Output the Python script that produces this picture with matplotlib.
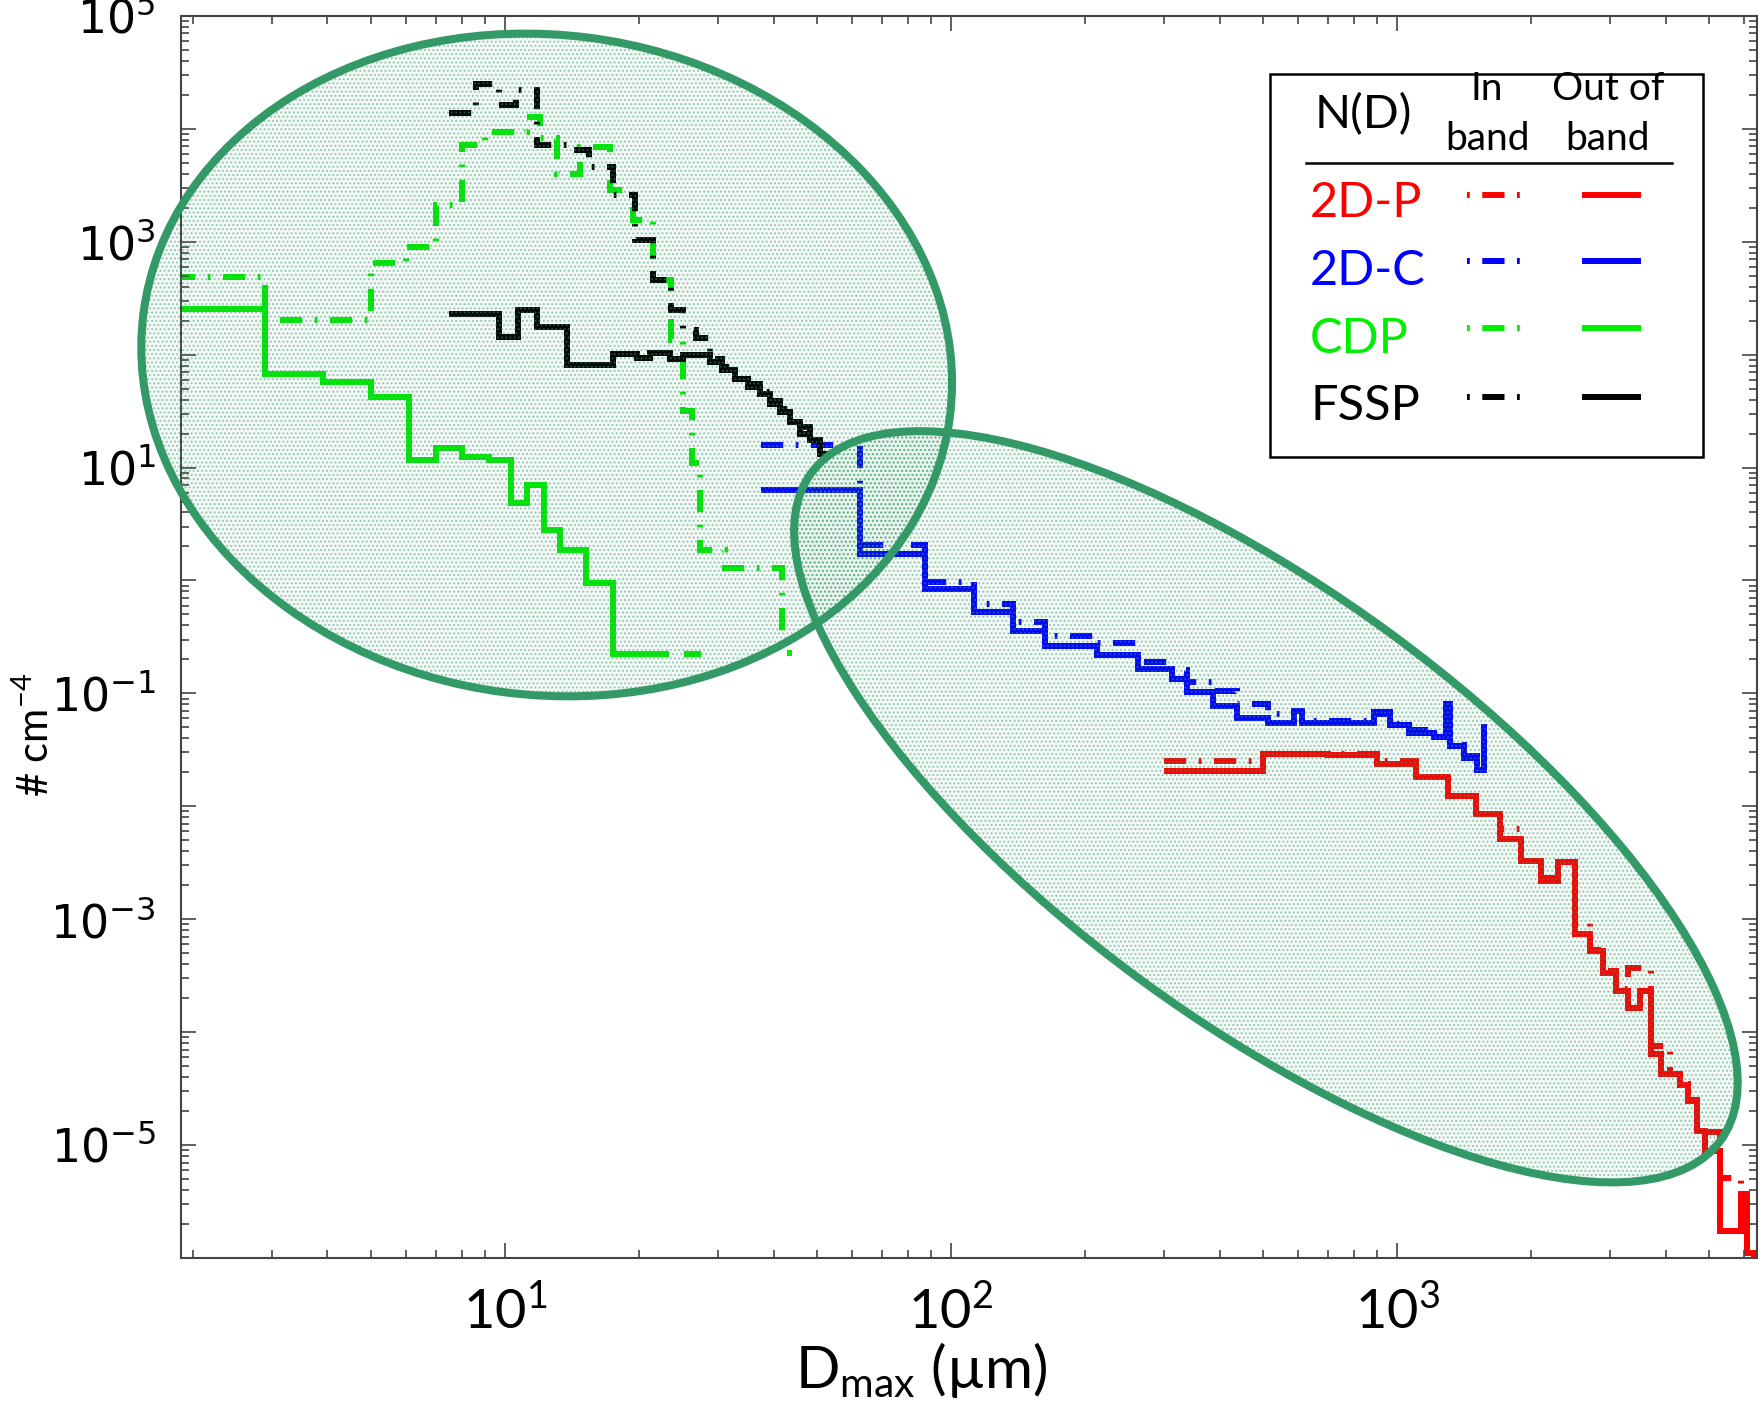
import numpy as np
import matplotlib
matplotlib.use("Agg")
import matplotlib.pyplot as plt
import matplotlib.transforms as mtransforms
from matplotlib.patches import Ellipse, Rectangle
from matplotlib.lines import Line2D
from matplotlib.ticker import LogLocator, FuncFormatter, NullFormatter

plt.rcParams['font.family'] = ['Lato', 'DejaVu Sans']
plt.rcParams['mathtext.default'] = 'regular'
plt.rcParams['lines.scale_dashes'] = False

# ---- data (D in um, N in # cm^-4) ----
# CDP
cdp_out_edges = [1.8, 2.9, 3.9, 5.0, 6.1, 7.0, 8.0, 9.2, 10.3, 11.2, 12.2, 13.3, 15.2, 17.5, 23.3, 25.2, 27.5]
cdp_out_vals = [256, 67, 57, 42, 11.7, 15, 12.4, 11.6, 4.9, 7.0, 2.77, 1.85, 0.94, 0.224, np.nan, 0.224]
cdp_in_edges = [1.8, 2.9, 5.0, 6.0, 7.0, 8.0, 9.0, 11.2, 12.0, 13.1, 14.7, 17.2, 19.4, 21.5, 23.5,
                25.1, 26.3, 27.4, 31.2, 41.8, 44.0]
cdp_in_vals = [489, 202, 643, 902, 2110, 7180, 9380, 12700, 8280, 3970, 6900, 2870, 1550, 457,
               134, 32, 10.9, 1.85, 1.3, 0.23]

# FSSP
fssp_out_edges = [7.5, 9.7, 10.7, 11.8, 13.8, 17.5, 19.8, 21.1, 23.4, 25.1, 28.8, 30.6, 32.8, 35.1,
                  37.3, 39.3, 41.4, 43.6, 45.9, 48.2, 50.9, 53.1]
fssp_out_vals = [231, 143, 251, 176, 80.5, 102, 93.5, 104, 92, 99, 86, 72.7, 61.4, 51.7, 45.2,
                 36.9, 31.1, 25.3, 20.0, 17.4, 13.3]
fssp_in_edges = [7.5, 8.6, 9.7, 10.6, 11.8, 13.9, 15.4, 17.5, 19.6, 21.5, 23.5, 25.1, 26.8, 28.8,
                 30.6, 32.8, 35.1, 37.3, 39.3, 41.4, 43.6, 45.9, 48.2, 50.9, 53.1]
fssp_in_vals = [13800, 25000, 16300, 22100, 7180, 6450, 4560, 2590, 1030, 457, 248, 164, 140,
                92, 78, 65, 55, 47, 39, 33, 27, 23, 19.5, 16]

# 2D-C
c2d_edges = [37.5, 62.5, 87.5, 112.5, 137.5, 162.5, 212.5, 262.5, 312.5, 337.5, 387.5, 437.5,
             512.5, 587.5, 612.5, 887.5, 962.5, 1062.5, 1212.5, 1287.5, 1312.5, 1412.5, 1512.5,
             1562.5, 1587.5]
c2d_out_vals = [6.28, 1.73, 0.843, 0.523, 0.36, 0.265, 0.22, 0.166, 0.135, 0.102, 0.078, 0.061,
                0.055, 0.070, 0.055, 0.068, 0.052, 0.045, 0.041, 0.081, 0.034, 0.027, 0.021, 0.05]
c2d_in_vals = [15.7, 2.04, 0.966, 0.621, 0.43, 0.325, 0.278, 0.19, 0.16, 0.125, 0.105, 0.08,
               0.065, 0.07, 0.057, 0.066, 0.054, 0.047, 0.042, 0.08, 0.035, 0.028, 0.022, 0.048]

# 2D-P
p2d_edges = [300, 500, 700, 900, 1100, 1300, 1500, 1700, 1900, 2100, 2300, 2500, 2700, 2900,
             3100, 3300, 3500, 3700, 3900, 4100, 4300, 4500, 4700, 4900, 5300, 5900, 6100, 6300, 6500]
p2d_out_vals = [0.0207, 0.029, 0.0285, 0.0237, 0.018, 0.0124, 0.00855, 0.00513, 0.0033, 0.00219,
                0.0032, 0.000738, 0.000525, 0.000337, 0.000232, 0.000165, 0.00023, 6.4e-5, 4.3e-5,
                4.3e-5, 3.4e-5, 2.46e-5, 1.33e-5, 8.9e-6, 1.74e-6, 3.7e-6, 1.1e-6, 5e-7]
p2d_in_vals = [0.0254, 0.0291, 0.0291, 0.0254, 0.018, 0.0124, 0.0085, 0.0063, 0.0033, 0.0023,
               0.0032, 0.00093, 0.00053, 0.00035, 0.00024, 0.00037, 0.00037, 7.6e-5, 7.6e-5,
               4.3e-5, 3.5e-5, 2.5e-5, 1.3e-5, 1.3e-5, 5.1e-6, 2.1e-6, 1.1e-6, 5e-7]

instruments = ['2D-P', '2D-C', 'CDP', 'FSSP']
colors = ['#ff0000', '#0000ff', '#00ee00', '#000000']

RED, BLUE, GREEN, BLACK = colors
DASHDOT = (0, (16, 9, 2, 9))
LW = 4.3

fig = plt.figure(figsize=(17.6, 14.19), dpi=100)
ax = fig.add_axes([0.1028, 0.1135, 0.8955, 0.8753])
ax.set_xscale('log')
ax.set_yscale('log')
ax.set_xlim(1.877, 6410)
ax.set_ylim(1e-6, 1e5)

# in band (dash-dot) under, out of band (solid) on top
ax.stairs(cdp_in_vals, cdp_in_edges, baseline=None, color=GREEN, lw=LW, ls=DASHDOT)
ax.stairs(fssp_in_vals, fssp_in_edges, baseline=None, color=BLACK, lw=LW, ls=DASHDOT)
ax.stairs(c2d_in_vals, c2d_edges, baseline=None, color=BLUE, lw=LW, ls=DASHDOT)
ax.stairs(p2d_in_vals, p2d_edges, baseline=None, color=RED, lw=LW, ls=DASHDOT)
ax.stairs(cdp_out_vals, cdp_out_edges, baseline=None, color=GREEN, lw=LW)
ax.stairs(fssp_out_vals, fssp_out_edges, baseline=None, color=BLACK, lw=LW)
ax.stairs(c2d_out_vals, c2d_edges, baseline=None, color=BLUE, lw=LW)
ax.stairs(p2d_out_vals, p2d_edges, baseline=None, color=RED, lw=LW)

# highlighted regions: centre in data coords, size in inches, angle in deg
ellipses = [(12.4, 81, 8.13, 6.60, -7.3), (508, 0.0099, 11.28, 4.27, -36.3)]
for cx, cy, w, h, ang in ellipses:
    tr = fig.dpi_scale_trans + mtransforms.ScaledTranslation(cx, cy, ax.transData)
    ax.add_patch(Ellipse((0, 0), w, h, angle=ang, transform=tr, facecolor=(0.2, 0.6, 0.4, 0.05),
                         edgecolor=(0.2, 0.6, 0.4, 0.45), lw=0, hatch='....', zorder=5, clip_on=False))
    ax.add_patch(Ellipse((0, 0), w, h, angle=ang, transform=tr, facecolor='none',
                         edgecolor='#339966', lw=5.8, zorder=6, clip_on=False))

# axes styling
for sp in ax.spines.values():
    sp.set_color('#444444')
    sp.set_linewidth(1.5)
ax.xaxis.set_major_locator(LogLocator(base=10, numticks=20))
ax.xaxis.set_minor_locator(LogLocator(base=10, subs=np.arange(2, 10), numticks=50))
ax.yaxis.set_major_locator(LogLocator(base=10, numticks=30))
ax.yaxis.set_minor_locator(LogLocator(base=10, subs=np.arange(2, 10), numticks=100))
ax.xaxis.set_minor_formatter(NullFormatter())
ax.yaxis.set_minor_formatter(NullFormatter())
ax.xaxis.set_major_formatter(FuncFormatter(lambda v, p: r'$10^{%d}$' % round(np.log10(v))))
ax.yaxis.set_major_formatter(FuncFormatter(
    lambda v, p: r'$10^{%d}$' % round(np.log10(v)) if round(np.log10(v)) % 2 else ''))
ax.tick_params(which='both', direction='in', top=True, right=True, color='#444444', width=1.2)
ax.tick_params(which='major', length=11)
ax.tick_params(which='minor', length=6)
ax.tick_params(axis='y', labelsize=33, pad=18)
ax.tick_params(axis='x', labelsize=39, pad=20)
for lab in ax.get_yticklabels():
    lab.set_family(['DejaVu Sans'])
for lab in ax.get_xticklabels():
    lab.set_family(['Liberation Sans Narrow', 'Lato'])

ax.set_xlabel(r'D$_{max}$ (µm)', fontsize=42, family=['Liberation Sans Narrow', 'Lato'])
ax.xaxis.set_label_coords(0.4695, -0.066)
ax.set_ylabel(r'# cm$^{-4}$', fontsize=30)
ax.yaxis.set_label_coords(-0.0793, 0.421)

# legend table
ax.add_patch(Rectangle((0.691, 0.645), 0.275, 0.3085, transform=ax.transAxes, facecolor='white',
                       edgecolor='black', lw=1.8, zorder=10))
ax.text(0.750, 0.9098, 'N(D)', transform=ax.transAxes, fontsize=34, ha='center', va='baseline', zorder=11)
ax.text(0.8287, 0.9324, 'In', transform=ax.transAxes, fontsize=28, ha='center', va='baseline', zorder=11)
ax.text(0.8287, 0.8921, 'band', transform=ax.transAxes, fontsize=28, ha='center', va='baseline', zorder=11)
ax.text(0.9054, 0.9324, 'Out of', transform=ax.transAxes, fontsize=28, ha='center', va='baseline', zorder=11)
ax.text(0.9054, 0.8921, 'band', transform=ax.transAxes, fontsize=28, ha='center', va='baseline', zorder=11)
ax.add_line(Line2D([0.7138, 0.9461], [0.8816, 0.8816], transform=ax.transAxes, color='black', lw=1.8, zorder=11))
row_text_y = [0.8384, 0.7834, 0.7289, 0.6747]
row_line_y = [0.8559, 0.8025, 0.7485, 0.6930]
for name, c, ty, ly in zip(instruments, colors, row_text_y, row_line_y):
    ax.text(0.7164, ty, name, transform=ax.transAxes, fontsize=35, color=c, ha='left', va='baseline', zorder=11)
    ax.add_line(Line2D([0.816, 0.8503], [ly, ly], transform=ax.transAxes, color=c, lw=LW,
                       ls=(0, (2, 9, 16, 9, 2)), zorder=11))
    ax.add_line(Line2D([0.8909, 0.9245], [ly, ly], transform=ax.transAxes, color=c, lw=LW, zorder=11))

fig.savefig('out.png', dpi=100)
